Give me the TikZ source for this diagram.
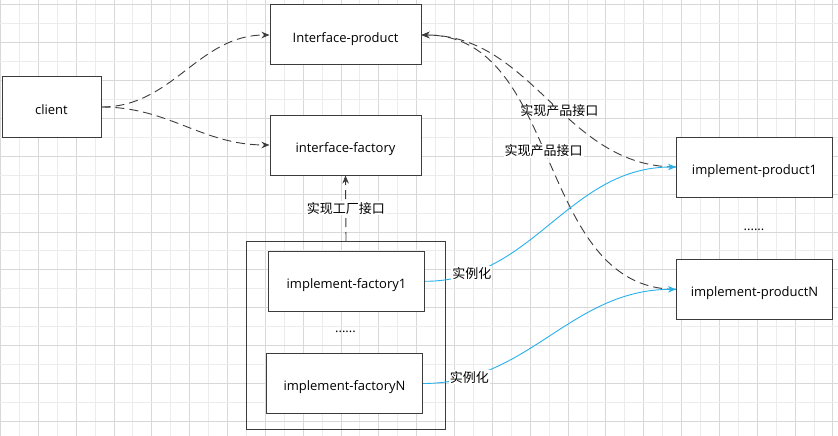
\documentclass[tikz,border=0pt]{standalone}
\usepackage{fontspec}
\setmainfont{Open Sans}
\newfontfamily\cjk{Noto Sans CJK SC}
\usetikzlibrary{arrows.meta}
\definecolor{gridlight}{RGB}{236,236,236}
\definecolor{griddark}{RGB}{216,216,216}
\definecolor{linegray}{RGB}{60,60,60}
\definecolor{instblue}{RGB}{38,176,236}

\begin{document}
\begin{tikzpicture}[x=1pt,y=-1pt,
    font=\fontsize{13}{15}\selectfont,
    box/.style={draw=linegray,line width=1pt,fill=white,inner sep=0pt,
      text height=14.6pt,text depth=0pt,minimum width=156pt,minimum height=60pt},
    lbl/.style={fill=white,inner sep=1pt,font=\cjk\fontsize{13}{15}\selectfont},
    dep/.style={draw=linegray,line width=0.9pt,dash pattern=on 9pt off 5pt,
      -{Stealth[length=8pt,width=6.5pt]}},
    inst/.style={draw=instblue,line width=0.9pt,-{Stealth[length=8pt,width=6.5pt]}}]
  \useasboundingbox (0,0) rectangle (838,436);
  \fill[white] (0,0) rectangle (838,436);
  % grid
  \foreach \i in {0,...,44} {
    \pgfmathsetmacro\gx{0.5+18.92*\i}
    \ifodd\i \draw[gridlight,line width=1pt] (\gx,0) -- (\gx,436);
    \else \draw[griddark,line width=1pt] (\gx,0) -- (\gx,436); \fi
  }
  \foreach \j in {0,...,22} {
    \pgfmathsetmacro\gy{5+18.92*\j}
    \ifodd\j \draw[gridlight,line width=1pt] (0,\gy) -- (838,\gy);
    \else \draw[griddark,line width=1pt] (0,\gy) -- (838,\gy); \fi
  }

  \node[box,minimum width=99pt] (client) at (51.5,107) {client};
  \node[box,minimum width=151pt] (ifProduct) at (345.5,35) {Interface-product};
  \node[box,minimum width=151pt] (ifFactory) at (345.5,145) {interface-factory};
  \node[draw=linegray,line width=1pt,minimum width=199pt,minimum height=188pt] (factories) at (346,335.5) {};
  \node[box] (factory1) at (346.5,281.3) {implement-factory1};
  \node[anchor=base] (dotsF) at (345.5,332.5) {......};
  \node[box] (factoryN) at (344.5,383.5) {implement-factoryN};
  \node[box] (product1) at (754.5,167) {implement-product1};
  \node[anchor=base] (dotsP) at (754,230) {......};
  \node[box] (productN) at (754.5,289.3) {implement-productN};

  \draw[dep] (client.east) to[out=0,in=180] (ifProduct.west);
  \draw[dep] (client.east) to[out=0,in=180] (ifFactory.west);
  \draw[dep] (factories.north) -- node[lbl] {实现工厂接口} (ifFactory.south);
  \draw[dep] (product1.west) to[out=180,in=0] node[lbl,pos=0.45] {实现产品接口} (ifProduct.east);
  \draw[dep] (productN.west) to[out=180,in=0] node[lbl,pos=0.53] {实现产品接口} (ifProduct.east);
  \draw[inst] (factory1.east) to[out=0,in=180] node[lbl,pos=0.16] {实例化} (product1.west);
  \draw[inst] (factoryN.east) to[out=0,in=180] node[lbl,pos=0.16] {实例化} (productN.west);
\end{tikzpicture}
\end{document}
